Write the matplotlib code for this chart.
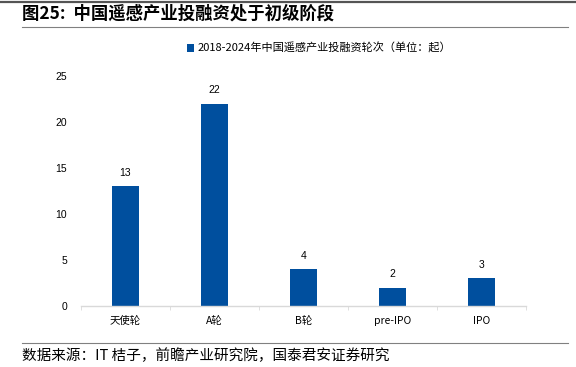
import matplotlib.pyplot as plt
from matplotlib.lines import Line2D
import numpy as np

plt.rcParams['font.family'] = ['Noto Sans CJK SC', 'DejaVu Sans']

categories = ['天使轮', 'A轮', 'B轮', 'pre-IPO', 'IPO']
values = [13, 22, 4, 2, 3]
y_ticks = [0, 5, 10, 15, 20, 25]

title = '图25:  中国遥感产业投融资处于初级阶段'
legend_label = '2018-2024年中国遥感产业投融资轮次（单位：起）'
source = '数据来源：IT 桔子，前瞻产业研究院，国泰君安证券研究'

bar_color = '#004F9E'
axis_color = '#D9D9D9'

fig = plt.figure(figsize=(5.76, 3.67), dpi=100)
ax = fig.add_axes([81 / 576, 1 - 306 / 367, 445 / 576, 230 / 367])

x = np.arange(len(categories))
bars = ax.bar(x, values, width=0.31, color=bar_color, label=legend_label)
for rect, v in zip(bars, values):
    ax.annotate(str(v), xy=(rect.get_x() + rect.get_width() / 2, v),
                xytext=(0, 6), textcoords='offset points',
                ha='center', va='bottom', fontsize=7.5, family='Liberation Sans')

ax.set_xlim(-0.5, len(categories) - 0.5)
ax.set_ylim(0, 25)
ax.set_yticks(y_ticks)
ax.set_yticklabels([str(t) for t in y_ticks], family='Liberation Sans', fontsize=7.5)
ax.set_xticks(x)
ax.set_xticklabels(categories, fontsize=7.5)
ax.tick_params(axis='y', length=0, pad=10)
ax.tick_params(axis='x', length=0, pad=7)
# boundary ticks between categories
ax.set_xticks(np.arange(-0.5, len(categories)), minor=True)
ax.tick_params(axis='x', which='minor', length=3, color=axis_color, direction='out')

for s in ['top', 'right', 'left']:
    ax.spines[s].set_visible(False)
ax.spines['bottom'].set_color(axis_color)
ax.spines['bottom'].set_linewidth(1.0)

leg = fig.legend(handles=[bars], labels=[legend_label], loc='center',
                 bbox_to_anchor=(319 / 576, 1 - 48 / 367), frameon=False,
                 fontsize=8, handlelength=0.7, handleheight=0.7, handletextpad=0.3)

fig.text(22 / 576, 1 - 14 / 367, title, fontsize=12.5, fontweight='bold', va='center', ha='left')
fig.text(22 / 576, 1 - 356 / 367, source, fontsize=10.5, va='center', ha='left')

fig.add_artist(Line2D([0, 1], [1 - 1.5 / 367] * 2, color='#555555', linewidth=1.6))
fig.add_artist(Line2D([22 / 576, 568 / 576], [1 - 27 / 367] * 2, color='#808080', linewidth=0.8))
fig.add_artist(Line2D([22 / 576, 568 / 576], [1 - 343 / 367] * 2, color='#808080', linewidth=0.8))

fig.savefig('out.png', dpi=100)
